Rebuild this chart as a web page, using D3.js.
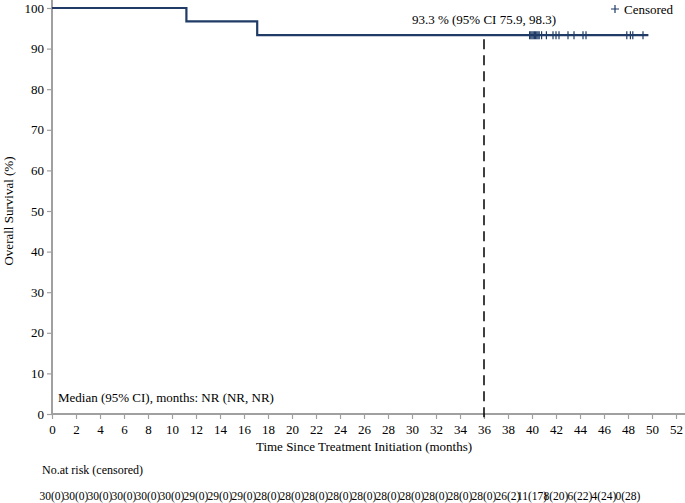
<!DOCTYPE html>
<html>
<head>
<meta charset="utf-8">
<script src="https://cdn.jsdelivr.net/npm/d3@7"></script>
<style>
  body { margin: 0; background: #fff; }
  svg, svg text { font-family: 'Liberation Serif', 'Times New Roman', 'DejaVu Serif', serif !important; }
</style>
</head>
<body>
<div id="chart"></div>
<script>
// survival steps (time in months, survival %)
const stepTimes = [0, 11.2, 17.1, 49.7];
const stepSurv = [100, 96.7, 93.3, 93.3];
// censor marks
const censorTimes = [39.8, 39.9, 40.0, 40.1, 40.2, 40.3, 40.4, 40.5, 40.6, 40.8,
  41.2, 41.75, 42.0, 42.25, 43.0, 43.5, 44.25, 44.5, 47.9, 48.2, 48.4, 49.25];
// number at risk table
const riskTimes = d3.range(0, 50, 2);
const riskLabels = ['30(0)', '30(0)', '30(0)', '30(0)', '30(0)', '30(0)',
  '29(0)', '29(0)', '29(0)',
  '28(0)', '28(0)', '28(0)', '28(0)', '28(0)', '28(0)', '28(0)', '28(0)', '28(0)', '28(0)',
  '26(2)', '11(17)', '8(20)', '6(22)', '4(24)', '0(28)'];
const xTicks = d3.range(0, 54, 2);
const yTicks = d3.range(0, 110, 10);
const landmark = 36;

const width = 685;
const height = 503;
const navy = '#1f3b66';
const grey = '#a0a0a0';
const serif = "'Liberation Serif', 'Times New Roman', serif";

const x = d3.scaleLinear().domain([0, 52]).range([52, 676]);
const y = d3.scaleLinear().domain([0, 100]).range([414, 8]);

const svg = d3.select('#chart')
  .append('svg')
  .attr('width', width)
  .attr('height', height)
  .attr('font-family', serif);

// axes
const xAxis = svg.append('g')
  .attr('transform', `translate(0,${y(0)})`)
  .call(d3.axisBottom(x).tickValues(xTicks).tickSize(5).tickPadding(6).tickSizeOuter(0));
xAxis.select('.domain').attr('d', `M${x(0)},0H${width}`);

const yAxis = svg.append('g')
  .attr('transform', `translate(${x(0)},0)`)
  .call(d3.axisLeft(y).tickValues(yTicks).tickSize(5).tickPadding(3).tickSizeOuter(0));
yAxis.select('.domain').attr('d', `M0,0V${y(0)}`);

svg.selectAll('g').attr('font-family', serif);
svg.selectAll('.domain').attr('stroke', grey).attr('stroke-width', 2);
svg.selectAll('.tick line').attr('stroke', grey).attr('stroke-width', 1.2);
svg.selectAll('.tick text')
  .attr('fill', '#000')
  .style('font-size', '13px');

// axis titles
svg.append('text')
  .attr('x', x(26))
  .attr('y', 451)
  .attr('text-anchor', 'middle')
  .style('font-size', '13px')
  .text('Time Since Treatment Initiation (months)');

svg.append('text')
  .attr('transform', `translate(13,${y(50)}) rotate(-90)`)
  .attr('text-anchor', 'middle')
  .style('font-size', '13px')
  .text('Overall Survival (%)');

// landmark dashed line
svg.append('line')
  .attr('x1', x(landmark))
  .attr('x2', x(landmark))
  .attr('y1', y(92.3))
  .attr('y2', y(-1.5))
  .attr('stroke', '#000')
  .attr('stroke-width', 1.5)
  .attr('stroke-dasharray', '10,6');

// KM curve
const line = d3.line()
  .x((d) => x(d[0]))
  .y((d) => y(d[1]))
  .curve(d3.curveStepAfter);

svg.append('path')
  .datum(stepTimes.map((t, i) => [t, stepSurv[i]]))
  .attr('fill', 'none')
  .attr('stroke', navy)
  .attr('stroke-width', 2.2)
  .attr('d', line);

// censor ticks
const survAt = (t) => {
  let s = stepSurv[0];
  stepTimes.forEach((st, i) => { if (t >= st) s = stepSurv[i]; });
  return s;
};
svg.append('g')
  .selectAll('path')
  .data(censorTimes)
  .join('path')
  .attr('d', (d) => `M${x(d)},${y(survAt(d)) - 4}V${y(survAt(d)) + 4}M${x(d) - 3},${y(survAt(d))}H${x(d) + 3}`)
  .attr('stroke', navy)
  .attr('stroke-width', 1.2);

// legend
const lg = svg.append('g').attr('transform', 'translate(615,9)');
lg.append('path')
  .attr('d', 'M-4,0H4M0,-4V4')
  .attr('stroke', navy)
  .attr('stroke-width', 1.2);
lg.append('text')
  .attr('x', 9)
  .attr('y', 4.5)
  .style('font-size', '13px')
  .text('Censored');

// annotations
svg.append('text')
  .attr('x', x(landmark))
  .attr('y', 24)
  .attr('text-anchor', 'middle')
  .style('font-size', '13px')
  .text('93.3 % (95% CI 75.9, 98.3)');

svg.append('text')
  .attr('x', 58)
  .attr('y', 402)
  .style('font-size', '13px')
  .text('Median (95% CI), months: NR (NR, NR)');

// risk table
svg.append('text')
  .attr('x', 42)
  .attr('y', 474)
  .style('font-size', '12px')
  .text('No.at risk (censored)');

svg.append('g')
  .selectAll('text')
  .data(riskTimes)
  .join('text')
  .attr('x', (d) => x(d))
  .attr('y', 500)
  .attr('text-anchor', 'middle')
  .style('font-size', '11.5px')
  .text((d, i) => riskLabels[i]);
</script>
</body>
</html>
